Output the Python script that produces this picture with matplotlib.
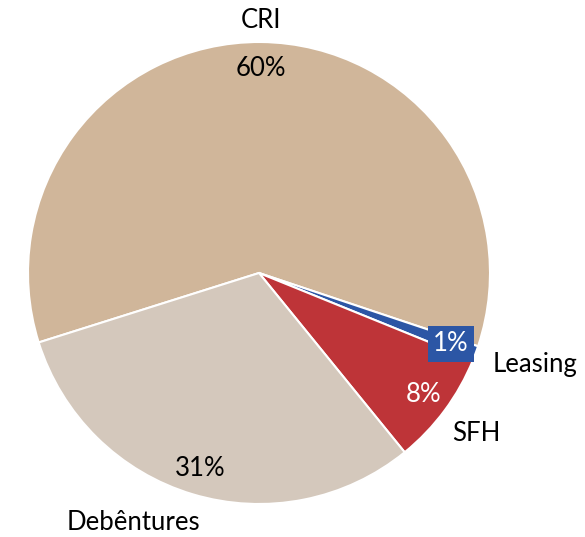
import numpy as np
import matplotlib.pyplot as plt

plt.rcParams['font.family'] = ['Lato', 'DejaVu Sans']

categories = ['CRI', 'Leasing', 'SFH', 'Debêntures']
shares = [60, 1, 8, 31]
colors = ['#D0B69A', '#2C56A5', '#BE3438', '#D4C8BC']
pct_colors = ['black', 'white', 'white', 'black']
label_dist = [1.095, 1.26, 1.17, 1.21]
label_shift = [0, 2, 0, -10]  # degrees, nudges like excel's placement

fig = plt.figure(figsize=(5.85, 5.37), dpi=100)
ax = fig.add_axes([0, 0, 1, 1])

cx, cy, r = 259, 264, 231
wedges, _ = ax.pie(shares, colors=colors, startangle=197.5, counterclock=False,
                   center=(cx, cy), radius=r, frame=True,
                   wedgeprops=dict(edgecolor='white', linewidth=1.5))
ax.set_xlim(0, 585)
ax.set_ylim(0, 537)
ax.axis('off')

for i, w in enumerate(wedges):
    mid = np.deg2rad((w.theta1 + w.theta2) / 2)
    px = cx + 0.885 * r * np.cos(mid)
    py = cy + 0.885 * r * np.sin(mid)
    box = None
    if categories[i] == 'Leasing':
        box = dict(boxstyle='square,pad=0.2', fc=colors[i], ec='none')
    ax.text(px, py, f'{shares[i]}%', ha='center', va='center', fontsize=18.5,
            color=pct_colors[i], bbox=box)
    la = mid + np.deg2rad(label_shift[i])
    lx = cx + label_dist[i] * r * np.cos(la)
    ly = cy + label_dist[i] * r * np.sin(la)
    ax.text(lx, ly, categories[i], ha='center', va='center', fontsize=18.5, color='black')

fig.savefig('out.png', dpi=100)
